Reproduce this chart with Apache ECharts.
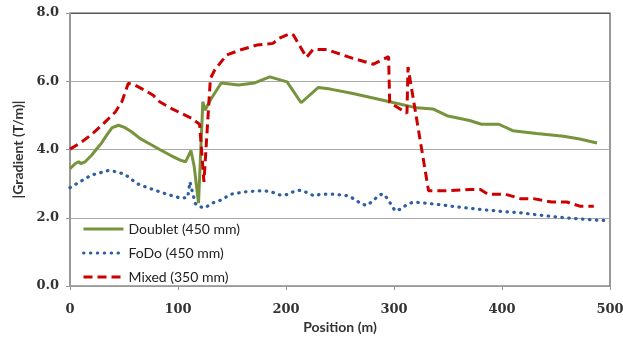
<!DOCTYPE html>
<html>
<head>
<meta charset="utf-8">
<script src="https://cdn.jsdelivr.net/npm/echarts@6/dist/echarts.min.js"></script>
<style>html,body{margin:0;padding:0;background:#fff}#c{width:623px;height:338px}</style>
</head>
<body>
<div id="c"></div>
<script>
const seriesNames = ['Doublet (450 mm)', 'FoDo (450 mm)', 'Mixed (350 mm)'];
const xTicks = [0, 100, 200, 300, 400, 500];
const yTicks = [0, 2, 4, 6, 8];

const doublet = [[0,3.44],[5,3.59],[8,3.64],[10,3.59],[14,3.64],[20,3.83],[25,4.03],[29,4.18],[34,4.42],[39,4.64],[45,4.71],[51,4.64],[57,4.52],[65,4.32],[74,4.16],[83,4.0],[93,3.83],[102,3.69],[107,3.64],[112,3.97],[115,3.5],[119,2.43],[123,5.40],[125,5.15],[130,5.45],[140,5.95],[156,5.89],[171,5.95],[185,6.13],[201,5.98],[214,5.37],[230,5.82],[241,5.77],[262,5.64],[296,5.40],[321,5.22],[336,5.19],[350,4.98],[370,4.85],[381,4.74],[397,4.74],[410,4.55],[432,4.47],[457,4.39],[472,4.31],[488,4.19]];

const fodo = [[0,2.88],[10,3.07],[20,3.25],[35,3.38],[45,3.34],[53,3.22],[62,3.0],[72,2.88],[83,2.76],[93,2.66],[103,2.57],[109,2.6],[111,3.05],[113,2.8],[116,2.42],[119,2.33],[125,2.29],[131,2.42],[140,2.52],[149,2.69],[162,2.76],[176,2.79],[182,2.78],[188,2.74],[195,2.66],[201,2.68],[208,2.78],[214,2.81],[220,2.73],[226,2.64],[232,2.69],[245,2.69],[258,2.64],[264,2.53],[270,2.40],[275,2.36],[280,2.48],[286,2.66],[290,2.70],[294,2.56],[301,2.20],[306,2.25],[312,2.39],[318,2.46],[338,2.40],[358,2.32],[378,2.25],[398,2.19],[418,2.14],[440,2.06],[458,2.0],[478,1.95],[500,1.91]];

const mixed = [[0,4.01],[9,4.18],[20,4.44],[31,4.76],[42,5.1],[48,5.4],[54,5.94],[60,5.89],[69,5.74],[77,5.59],[83,5.4],[94,5.2],[103,5.06],[113,4.91],[117,4.81],[120,4.74],[124,3.05],[130,6.08],[134,6.33],[145,6.77],[157,6.91],[173,7.06],[188,7.11],[193,7.25],[204,7.40],[207,7.35],[219,6.70],[225,6.93],[238,6.93],[244,6.86],[262,6.67],[281,6.50],[295,6.72],[296,5.38],[312,5.06],[313,6.42],[315,6.03],[332,2.79],[349,2.79],[370,2.83],[380,2.83],[387,2.69],[403,2.69],[417,2.56],[429,2.56],[446,2.46],[460,2.46],[472,2.34],[485,2.34]];

const chart = echarts.init(document.getElementById('c'), null, {renderer: 'canvas'});
const labelFont = {fontFamily: 'DejaVu Serif', fontWeight: 'bold', fontSize: 13, color: '#333'};
const titleFont = {fontFamily: 'Lato', fontWeight: 'bold', fontSize: 14, color: '#333'};
chart.setOption({
  animation: false,
  backgroundColor: '#fff',
  grid: {left: 70, right: 13, top: 13, bottom: 52, show: true, borderColor: '#555', borderWidth: 1.2, backgroundColor: 'transparent', outerBoundsMode: 'none', containLabel: false},
  legend: {
    orient: 'vertical', left: 77, top: 217, itemWidth: 40, itemHeight: 14, itemGap: 10,
    itemStyle: {opacity: 0},
    lineStyle: {width: 3},
    textStyle: {fontFamily: 'Lato', fontSize: 14, color: '#222'},
    data: seriesNames
  },
  xAxis: {
    type: 'value', min: xTicks[0], max: xTicks[xTicks.length-1], interval: 100,
    name: 'Position (m)', nameLocation: 'middle', nameGap: 32, nameTextStyle: titleFont,
    axisLine: {show: true, onZero: false, lineStyle: {color: '#999', width: 1}},
    axisTick: {show: true, length: 4, lineStyle: {color: '#999'}},
    axisLabel: Object.assign({margin: 17}, labelFont),
    splitLine: {show: false}
  },
  yAxis: {
    type: 'value', min: yTicks[0], max: yTicks[yTicks.length-1], interval: 2,
    name: '|Gradient (T/m)|', nameLocation: 'middle', nameGap: 45, nameTextStyle: titleFont,
    axisLine: {show: true, lineStyle: {color: '#999', width: 1}},
    axisTick: {show: true, length: 4, lineStyle: {color: '#999'}},
    axisLabel: Object.assign({margin: 11, formatter: v => v.toFixed(1)}, labelFont),
    splitLine: {show: true, lineStyle: {color: ['#aaa', '#aaa', '#aaa', '#aaa', '#555'], width: 1}}
  },
  series: [
    {name: seriesNames[0], type: 'line', data: doublet, symbol: 'none', lineStyle: {color: '#77933C', width: 3}, itemStyle: {color: '#77933C'}},
    {name: seriesNames[1], type: 'line', data: fodo, symbol: 'none', lineStyle: {color: '#2F5F9E', width: 3.2, type: [0.5, 6.4], cap: 'round'}, itemStyle: {color: '#2F5F9E'}},
    {name: seriesNames[2], type: 'line', data: mixed, symbol: 'none', lineStyle: {color: '#CC0000', width: 3, type: [9, 5]}, itemStyle: {color: '#CC0000'}}
  ]
});
</script>
</body>
</html>
